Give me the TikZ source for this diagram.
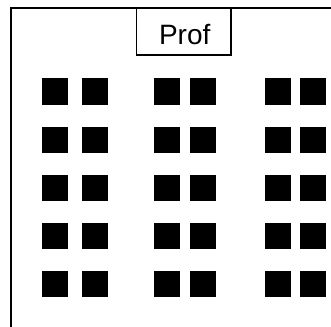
\documentclass[tikz,border=0pt]{standalone}
\usepackage{fontspec}
\setmainfont{Liberation Sans}
\usepackage{tikz}

\begin{document}
\begin{tikzpicture}[x=1pt,y=-1pt,
  seat/.style={fill=black,minimum size=26pt,inner sep=0pt},
  desk/.style={draw,line width=1.3pt,minimum width=94.3pt,minimum height=47.3pt,inner sep=0pt}]
 \useasboundingbox (0,0) rectangle (331,326);
 \clip (0,0) rectangle (331,326);
 \draw[line width=2pt] (10.7,350) -- (10.7,7.7) -- (350,7.7);
 \node[desk] (prof) at (183.9,31.4) {};
 \node[font=\fontsize{28}{30}\selectfont,anchor=base,inner sep=0pt] (proflab) at (184.7,45) {Prof};
 \foreach \r/\y in {1/91.5,2/139.5,3/187.5,4/235.5,5/283.5}
  \foreach \c/\x in {1/54.7,2/94.7,3/166.7,4/203,5/278,6/313}
   \node[seat] (s-\r-\c) at (\x,\y) {};
\end{tikzpicture}
\end{document}
